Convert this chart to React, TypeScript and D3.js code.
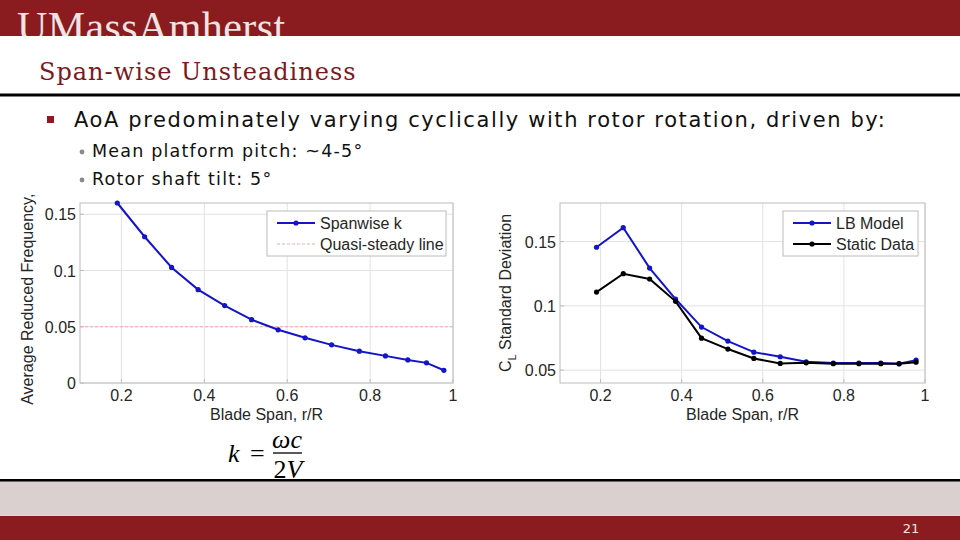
import React from 'react';
import * as d3 from 'd3';

// blade span stations, r/R
const spanX = [0.19, 0.256, 0.321, 0.385, 0.449, 0.514, 0.578, 0.643, 0.707, 0.774, 0.837, 0.891, 0.936, 0.978];
// average reduced frequency k per station
const kValues = [0.16, 0.13, 0.1027, 0.083, 0.0688, 0.0563, 0.0473, 0.0402, 0.0339, 0.0283, 0.0241, 0.0205, 0.0179, 0.0113];
const quasiSteady = 0.05;
// CL standard deviation
const lbModel = [0.1456, 0.1608, 0.1294, 0.1053, 0.0835, 0.0726, 0.064, 0.0604, 0.0565, 0.0555, 0.0555, 0.0555, 0.0549, 0.0578];
const staticData = [0.1107, 0.125, 0.1209, 0.1035, 0.0749, 0.0664, 0.0591, 0.0552, 0.0557, 0.055, 0.055, 0.055, 0.055, 0.0562];

const xTicks = [0.2, 0.4, 0.6, 0.8, 1];
const kTicks = [0, 0.05, 0.1, 0.15];
const clTicks = [0.05, 0.1, 0.15];

const RED = '#8a1c1f';
const BLUE = '#1414c8';
const AX = '#262626';
const FONT = '"Liberation Sans", Arial, sans-serif';
const BODY = '"DejaVu Sans", Verdana, sans-serif';

type Series = { values: number[]; color: string; label: string };

const fmt = (v: number) => String(+v.toFixed(2));

function Axes(props: {
  left: number; right: number; top: number; bottom: number;
  yDomain: [number, number]; yTicks: number[];
  series: Series[]; hline?: number;
  legend: { x: number; w: number };
  yLabel: React.ReactNode; yLabelX: number; clipTop?: number; id: string;
}) {
  const { left, right, top, bottom } = props;
  const x = d3.scaleLinear().domain([0.1, 1]).range([left, right]);
  const y = d3.scaleLinear().domain(props.yDomain).range([bottom, top]);
  const line = d3.line<number>().x((_, i) => x(spanX[i])).y(d => y(d));
  const mid = (top + bottom) / 2;
  const legendItems = [...props.series];
  if (props.hline !== undefined) legendItems.push({ values: [], color: '#f2a8a8', label: 'Quasi-steady line' });
  return (
    <g fontFamily={FONT}>
      <rect x={left} y={top} width={right - left} height={bottom - top} fill="#fff" />
      {xTicks.map(t => (
        <g key={'gx' + t}>
          <line x1={x(t)} x2={x(t)} y1={top} y2={bottom} stroke="#e2e2e2" />
          <line x1={x(t)} x2={x(t)} y1={bottom} y2={bottom - 4} stroke="#bcbcbc" />
          <text x={x(t)} y={401} textAnchor="middle" fontSize={16} fill={AX}>{fmt(t)}</text>
        </g>
      ))}
      {props.yTicks.map(t => (
        <g key={'gy' + t}>
          <line x1={left} x2={right} y1={y(t)} y2={y(t)} stroke="#e2e2e2" />
          <line x1={left} x2={left + 4} y1={y(t)} y2={y(t)} stroke="#bcbcbc" />
          <text x={left - 4} y={y(t) + 6} textAnchor="end" fontSize={16} fill={AX}>{fmt(t)}</text>
        </g>
      ))}
      {props.hline !== undefined && (
        <line x1={left} x2={right} y1={y(props.hline)} y2={y(props.hline)}
          stroke="#f2a8a8" strokeWidth={1} strokeDasharray="3,2" />
      )}
      <rect x={left} y={top} width={right - left} height={bottom - top} fill="none" stroke="#bcbcbc" />
      {props.series.map(s => (
        <g key={s.label}>
          <path d={line(s.values) || ''} fill="none" stroke={s.color} strokeWidth={2} />
          {s.values.map((v, i) => (
            <circle key={i} cx={x(spanX[i])} cy={y(v)} r={2.6} fill={s.color} />
          ))}
        </g>
      ))}
      {/* legend */}
      <rect x={props.legend.x} y={211} width={props.legend.w} height={45} fill="#fff" stroke="#bcbcbc" />
      {legendItems.map((s, i) => {
        const ly = 223 + i * 21;
        const dashed = s.label === 'Quasi-steady line';
        return (
          <g key={'lg' + s.label}>
            <line x1={props.legend.x + 10} x2={props.legend.x + 48} y1={ly} y2={ly} stroke={s.color}
              strokeWidth={dashed ? 1 : 2} strokeDasharray={dashed ? '3,2' : undefined} />
            {!dashed && <circle cx={props.legend.x + 29} cy={ly} r={2.6} fill={s.color} />}
            <text x={props.legend.x + 53} y={ly + 6} fontSize={16} fill={AX}>{s.label}</text>
          </g>
        );
      })}
      <text x={(left + right) / 2} y={420} textAnchor="middle" fontSize={16} fill={AX}>Blade Span, r/R</text>
      <defs>
        <clipPath id={props.id}>
          <rect x={0} y={props.clipTop ?? 0} width={960} height={540} />
        </clipPath>
      </defs>
      <g clipPath={`url(#${props.id})`}>
        <text transform={`translate(${props.yLabelX},${mid}) rotate(-90)`} textAnchor="middle" fontSize={16} fill={AX}>
          {props.yLabel}
        </text>
      </g>
    </g>
  );
}

export default function App() {
  return (
    <div style={{ position: 'fixed', left: 0, top: 0 }}>
      <svg width={960} height={540} viewBox="0 0 960 540" style={{ display: 'block' }}>
        <rect width={960} height={540} fill="#fff" />
        {/* header */}
        <defs>
          <clipPath id="hdr"><rect x={0} y={0} width={960} height={36} /></clipPath>
        </defs>
        <rect x={0} y={0} width={960} height={36} fill={RED} />
        <text x={17} y={41} clipPath="url(#hdr)" fontFamily='"Liberation Serif", serif' fontSize={42}
          fill="#efe4e4" letterSpacing={0.4}>UMassAmherst</text>
        <text x={39} y={80} fontFamily='"DejaVu Serif", serif' fontSize={24} letterSpacing={1}
          fill="#7a1a1f">Span-wise Unsteadiness</text>
        <rect x={0} y={93.5} width={960} height={3} fill="#000" />

        {/* bullets */}
        <rect x={47} y={116} width={7} height={7} fill={RED} />
        <text x={74} y={127} fontFamily={BODY} fontSize={21} letterSpacing={1.6} fill="#111">
          AoA predominately varying cyclically with rotor rotation, driven by:
        </text>
        <g fontFamily={BODY} fontSize={17.5} letterSpacing={1.2} fill="#111">
          <circle cx={82} cy={152} r={2.4} fill="#8a8a8a" />
          <text x={92} y={157}>Mean platform pitch: ~4-5°</text>
          <circle cx={82} cy={180} r={2.4} fill="#8a8a8a" />
          <text x={92} y={185}>Rotor shaft tilt: 5°</text>
        </g>

        <Axes id="cl1" left={80} right={453} top={203} bottom={383} yDomain={[0, 0.16]} yTicks={kTicks}
          series={[{ values: kValues, color: BLUE, label: 'Spanwise k' }]} hline={quasiSteady}
          legend={{ x: 267, w: 179 }} yLabelX={33} clipTop={191}
          yLabel="Average Reduced Frequency, k" />
        <Axes id="cl2" left={560} right={925} top={203} bottom={383} yDomain={[0.04, 0.18]} yTicks={clTicks}
          series={[{ values: lbModel, color: BLUE, label: 'LB Model' }, { values: staticData, color: '#000', label: 'Static Data' }]}
          legend={{ x: 783, w: 135 }} yLabelX={511}
          yLabel={<><tspan>C</tspan><tspan dy={5} fontSize={11}>L</tspan><tspan dy={-5}> Standard Deviation</tspan></>} />

        {/* equation */}
        <g fontFamily='"Liberation Serif", serif' fontSize={26} fill="#000">
          <text x={228} y={462} fontStyle="italic">k</text>
          <text x={250} y={462}>=</text>
          <text x={287} y={448} textAnchor="middle" fontStyle="italic">ωc</text>
          <line x1={273} x2={302} y1={453} y2={453} stroke="#000" strokeWidth={1.3} />
          <text x={288} y={478} textAnchor="middle"><tspan>2</tspan><tspan fontStyle="italic">V</tspan></text>
        </g>

        {/* footer */}
        <rect x={0} y={481} width={960} height={34} fill="#d9d0cf" />
        <rect x={0} y={479} width={960} height={2.5} fill="#000" />
        <rect x={0} y={515} width={960} height={1} fill="#e9cfcf" />
        <rect x={0} y={516} width={960} height={24} fill={RED} />
        <text x={911} y={533} textAnchor="middle" fontFamily={BODY} fontSize={13} fill="#efe4e4">21</text>
      </svg>
    </div>
  );
}
